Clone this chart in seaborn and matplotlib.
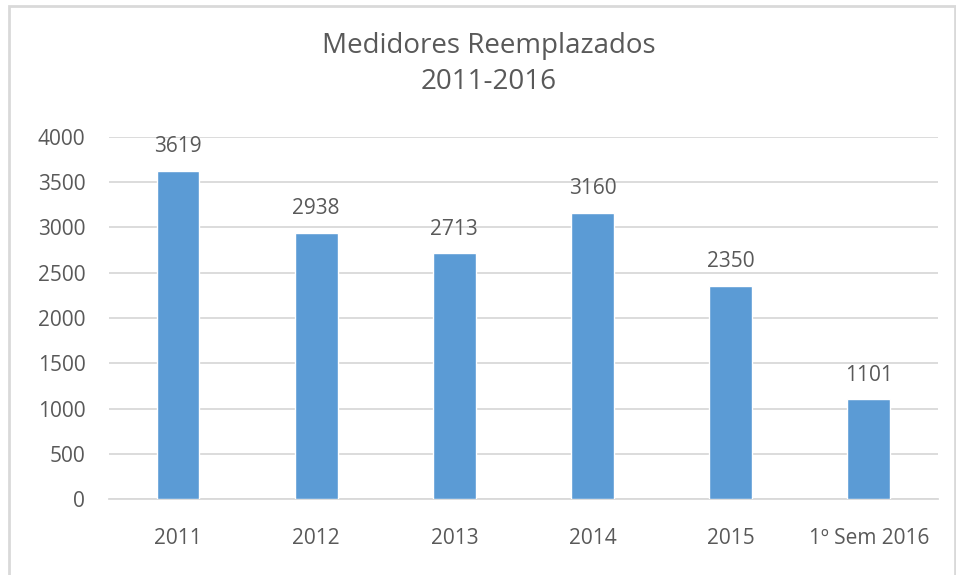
import matplotlib
matplotlib.use("Agg")
import matplotlib.pyplot as plt
import seaborn as sns
import pandas as pd
from matplotlib.patches import Rectangle

# datos
categorias = ["2011", "2012", "2013", "2014", "2015", "1º Sem 2016"]
medidores = [3619, 2938, 2713, 3160, 2350, 1101]

df = pd.DataFrame({"periodo": categorias, "medidores": medidores})

sns.set_theme(style="white")
plt.rcParams['font.family'] = ['Open Sans', 'DejaVu Sans']

gris = "#595959"
fig = plt.figure(figsize=(9.56, 5.75), dpi=100)
ax = fig.add_axes([0.114, 0.132, 0.867, 0.63])

sns.barplot(data=df, x="periodo", y="medidores", color="#5B9BD5",
            width=0.31, saturation=1, ax=ax, zorder=3)

ax.set_ylim(0, 4000)
ax.set_yticks(range(0, 4001, 500))
ax.yaxis.grid(True, color="#D9D9D9", linewidth=1.3, zorder=0)
ax.set_axisbelow(True)
for s in ["top", "right", "left"]:
    ax.spines[s].set_visible(False)
ax.spines["bottom"].set_color("#D9D9D9")
ax.spines["bottom"].set_linewidth(1.3)
ax.set_xlabel("")
ax.set_ylabel("")
ax.tick_params(axis="both", length=0, labelsize=15, colors=gris)
ax.tick_params(axis="x", pad=21)
ax.tick_params(axis="y", pad=17)

# etiquetas de valor sobre cada barra
for p, v in zip(ax.patches, medidores):
    ax.annotate(str(v), (p.get_x() + p.get_width() / 2, v),
                xytext=(0, 10), textcoords="offset points",
                ha="center", va="bottom", fontsize=15, color=gris)

fig.text(0.511, 0.889, "Medidores Reemplazados\n2011-2016", ha="center",
         va="center", fontsize=20, color=gris, linespacing=1.37)

fig.patches.append(Rectangle((0.009, -0.01), 0.99, 0.999, transform=fig.transFigure,
                             fill=False, edgecolor="#D9D9D9", linewidth=2))

fig.savefig("out.png", dpi=100)
